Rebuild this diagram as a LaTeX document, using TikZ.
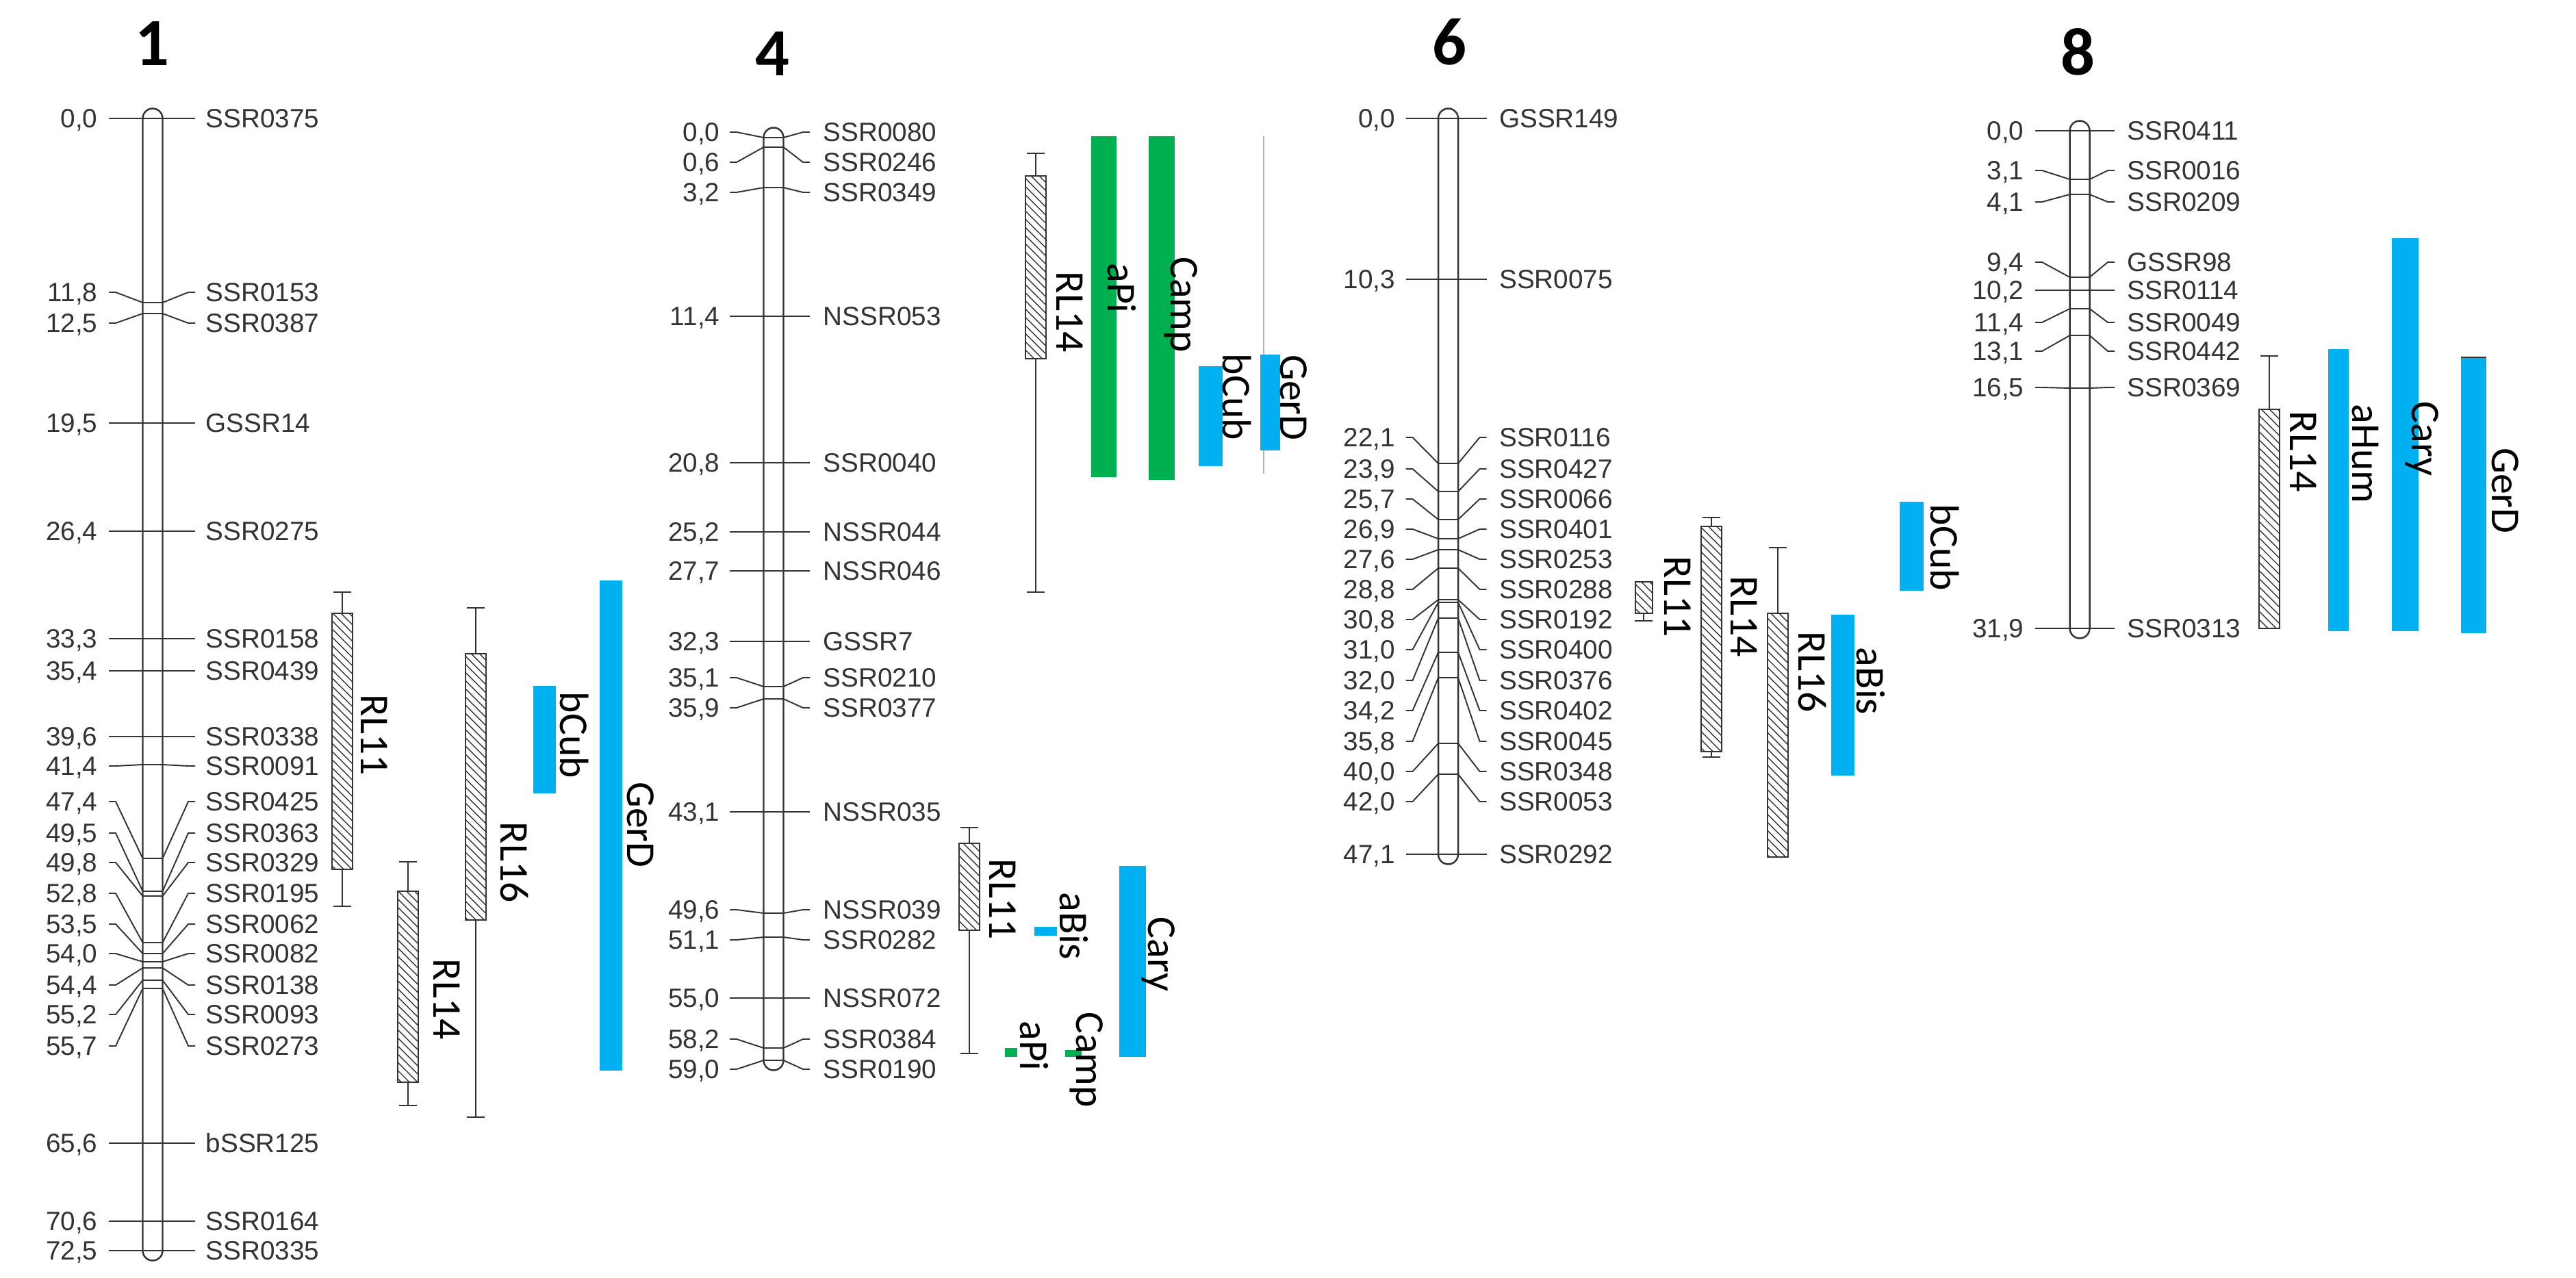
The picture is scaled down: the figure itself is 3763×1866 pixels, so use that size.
\documentclass[tikz,border=0pt]{standalone}
\usepackage{fontspec}
\setmainfont{Liberation Sans}
\newfontfamily\carl{Carlito}
\usetikzlibrary{patterns.meta}
\definecolor{qblue}{HTML}{00B0F0}
\definecolor{qgreen}{HTML}{00B050}
\definecolor{ink}{HTML}{333333}
\tikzset{
  chrom/.style={draw=ink, line width=0.7pt, fill=white, rounded corners=0.145cm},
  mkline/.style={draw=ink, line width=0.55pt},
  numlbl/.style={anchor=east, inner sep=0pt, font=\fontsize{11}{13}\selectfont, text=ink, text height=7.9pt, text depth=0pt},
  mklbl/.style={anchor=west, inner sep=0pt, font=\fontsize{11}{13}\selectfont, text=ink, text height=7.9pt, text depth=0pt},
  ctitle/.style={inner sep=0pt, font=\carl\bfseries\fontsize{28}{32}\selectfont, text height=17.7pt, text depth=0pt},
  qlbl/.style={rotate=-90, inner sep=0pt, font=\carl\fontsize{17}{20}\selectfont, text height=10.9pt, text depth=0pt},
  hatch/.style={draw=ink, line width=0.5pt, pattern={Lines[angle=-45,distance=2.4pt,line width=0.4pt]}, pattern color=ink},
  whisk/.style={draw=ink, line width=0.5pt}
}
% chromosome parameters: centre, number edge, line start, line end, name start, id
\newcommand\setchr[6]{\def\xc{#1}\def\nl{#2}\def\ls{#3}\def\le{#4}\def\nm{#5}\def\cid{#6}}
% marker: label y, bar y, position, name
\newcommand\mk[4]{%
  \node[numlbl] (\cid-#4-p) at (\xc+\nl,#1) {#3};
  \node[mklbl] (\cid-#4) at (\xc+\nm,#1) {#4};
  \draw[mkline] (\xc+\ls,#1) -- (\xc+\ls+10,#1) -- (\xc-14.5,#2) -- (\xc+14.5,#2) -- (\xc+\le-10,#1) -- (\xc+\le,#1);}
\newcommand\qbox[3]{\draw[hatch] (#1-15,#2) rectangle (#1+15,#3);}
\newcommand\qwhisk[3]{\draw[whisk] (#1,#2) -- (#1,#3) (#1-13,#3) -- (#1+13,#3);}
\newcommand\qbar[5]{\fill[#1] (#2,#4) rectangle (#3,#5);}
\newcommand\qlab[4]{\node[qlbl] (#4) at (#1,#2) {#3};}
\begin{document}
\begin{tikzpicture}[x=0.01cm,y=-0.01cm]
\useasboundingbox (0,0) rectangle (3763,1866);
\fill[white] (0,0) rectangle (3763,1866);

% ---------------- titles
\node[ctitle] (t1) at (222,64) {1};
\node[ctitle] (t4) at (1128,79) {4};
\node[ctitle] (t6) at (2117,63) {6};
\node[ctitle] (t8) at (3035,78) {8};

% ---------------- chromosome 1
\setchr{223}{-80}{-64}{62}{77}{a}
\draw[chrom] (\xc-14.5,173-14.5) rectangle (\xc+14.5,1827+14.5);
\mk{173}{173}{0,0}{SSR0375}
\mk{427}{442}{11,8}{SSR0153}
\mk{472}{458}{12,5}{SSR0387}
\mk{618}{618}{19,5}{GSSR14}
\mk{776}{776}{26,4}{SSR0275}
\mk{933}{933}{33,3}{SSR0158}
\mk{980}{980}{35,4}{SSR0439}
\mk{1076}{1076}{39,6}{SSR0338}
\mk{1119}{1117}{41,4}{SSR0091}
\mk{1171}{1254}{47,4}{SSR0425}
\mk{1217}{1302}{49,5}{SSR0363}
\mk{1260}{1309}{49,8}{SSR0329}
\mk{1305}{1377}{52,8}{SSR0195}
\mk{1350}{1393}{53,5}{SSR0062}
\mk{1393}{1405}{54,0}{SSR0082}
\mk{1439}{1414}{54,4}{SSR0138}
\mk{1482}{1432}{55,2}{SSR0093}
\mk{1528}{1444}{55,7}{SSR0273}
\mk{1670}{1670}{65,6}{bSSR125}
\mk{1784}{1784}{70,6}{SSR0164}
\mk{1827}{1827}{72,5}{SSR0335}
% QTL chr 1
\qwhisk{500}{896}{865}\qwhisk{500}{1270}{1324}\qbox{500}{896}{1270}
\qlab{547}{1074}{RL11}{a-RL11}
\qwhisk{695}{955}{888}\qwhisk{695}{1344}{1632}\qbox{695}{955}{1344}
\qlab{751}{1260}{RL16}{a-RL16}
\qwhisk{596}{1302}{1259}\qwhisk{596}{1581}{1615}\qbox{596}{1302}{1581}
\qlab{653}{1460}{RL14}{a-RL14}
\qbar{qblue}{779}{812}{1002}{1159}
\qlab{838}{1074}{bCub}{a-bCub}
\qbar{qblue}{876}{909}{848}{1564}
\qlab{936}{1205}{GerD}{a-GerD}

% ---------------- chromosome 4
\setchr{1130}{-78}{-64}{53}{72}{b}
\draw[chrom] (\xc-14.5,201-14.5) rectangle (\xc+14.5,1549+14.5);
\mk{193}{201}{0,0}{SSR0080}
\mk{237}{215}{0,6}{SSR0246}
\mk{281}{274}{3,2}{SSR0349}
\mk{462}{462}{11,4}{NSSR053}
\mk{676}{676}{20,8}{SSR0040}
\mk{777}{777}{25,2}{NSSR044}
\mk{834}{834}{27,7}{NSSR046}
\mk{937}{937}{32,3}{GSSR7}
\mk{990}{1003}{35,1}{SSR0210}
\mk{1034}{1021}{35,9}{SSR0377}
\mk{1186}{1186}{43,1}{NSSR035}
\mk{1329}{1334}{49,6}{NSSR039}
\mk{1373}{1369}{51,1}{SSR0282}
\mk{1458}{1458}{55,0}{NSSR072}
\mk{1518}{1531}{58,2}{SSR0384}
\mk{1562}{1549}{59,0}{SSR0190}
% QTL chr 4
\qwhisk{1513}{257}{224}\qwhisk{1513}{524}{865}\qbox{1513}{257}{524}
\qlab{1563}{456}{RL14}{b-RL14}
\qbar{qgreen}{1594}{1631}{199}{697}
\qlab{1638}{421}{aPi}{b-aPi}
\qbar{qgreen}{1678}{1716}{199}{701}
\qlab{1730}{445}{Camp}{b-Camp}
\qbar{qblue}{1751}{1786}{535}{681}
\qlab{1806}{580}{bCub}{b-bCub}
\draw[black!30, line width=0.4pt] (1846,199) -- (1846,692);
\qbar{qblue}{1841}{1870}{518}{658}
\qlab{1890}{581}{GerD}{b-GerD}
\qwhisk{1416}{1232}{1209}\qwhisk{1416}{1359}{1539}\qbox{1416}{1232}{1359}
\qlab{1465}{1314}{RL11}{b-RL11}
\qbar{qblue}{1511}{1544}{1354}{1367}
\qlab{1568}{1353}{aBis}{b-aBis}
\qbar{qblue}{1635}{1674}{1265}{1544}
\qlab{1697}{1394}{Cary}{b-Cary}
\qbar{qgreen}{1468}{1486}{1531}{1544}
\qlab{1510}{1528}{aPi}{b-aPi2}
\qbar{qgreen}{1556}{1580}{1534}{1544}
\qlab{1592}{1548}{Camp}{b-Camp2}

% ---------------- chromosome 6
\setchr{2115.5}{-77}{-62}{56}{74}{c}
\draw[chrom] (\xc-14.5,173-14.5) rectangle (\xc+14.5,1248+14.5);
\mk{173}{173}{0,0}{GSSR149}
\mk{408}{408}{10,3}{SSR0075}
\mk{639}{677}{22,1}{SSR0116}
\mk{685}{718}{23,9}{SSR0427}
\mk{729}{759}{25,7}{SSR0066}
\mk{773}{787}{26,9}{SSR0401}
\mk{817}{803}{27,6}{SSR0253}
\mk{861}{830}{28,8}{SSR0288}
\mk{905}{876}{30,8}{SSR0192}
\mk{949}{880}{31,0}{SSR0400}
\mk{994}{903}{32,0}{SSR0376}
\mk{1038}{953}{34,2}{SSR0402}
\mk{1083}{990}{35,8}{SSR0045}
\mk{1127}{1086}{40,0}{SSR0348}
\mk{1171}{1131}{42,0}{SSR0053}
\mk{1248}{1248}{47,1}{SSR0292}
% QTL chr 6
\qwhisk{2401}{896}{907}\draw[hatch] (2389,850) rectangle (2414,896);
\qlab{2451}{872}{RL11}{c-RL11}
\qwhisk{2500}{769}{756}\qwhisk{2500}{1098}{1106}\qbox{2500}{769}{1098}
\qlab{2548}{901}{RL14}{c-RL14}
\qwhisk{2597}{896}{800}\qbox{2597}{896}{1252}
\qlab{2647}{982}{RL16}{c-RL16}
\qbar{qblue}{2675}{2709}{898}{1133}
\qlab{2732}{995}{aBis}{c-aBis}
\qbar{qblue}{2775}{2810}{733}{863}
\qlab{2840}{800}{bCub}{c-bCub}

% ---------------- chromosome 8
\setchr{3038}{-81}{-65}{51}{69}{d}
\draw[chrom] (\xc-14.5,191-14.5) rectangle (\xc+14.5,918+14.5);
\mk{191}{191}{0,0}{SSR0411}
\mk{249}{262}{3,1}{SSR0016}
\mk{295}{284}{4,1}{SSR0209}
\mk{383}{405}{9,4}{GSSR98}
\mk{424}{424}{10,2}{SSR0114}
\mk{471}{451}{11,4}{SSR0049}
\mk{513}{490}{13,1}{SSR0442}
\mk{566}{567}{16,5}{SSR0369}
\mk{918}{918}{31,9}{SSR0313}
% QTL chr 8
\qwhisk{3315}{598}{520}\qbox{3315}{598}{918}
\qlab{3365}{660}{RL14}{d-RL14}
\qbar{qblue}{3401}{3431}{510}{922}
\qlab{3456}{663}{aHum}{d-aHum}
\qbar{qblue}{3494}{3533}{348}{922}
\qlab{3543}{641}{Cary}{d-Cary}
\qbar{qblue}{3595}{3632}{522}{925}
\draw[ink, line width=0.6pt] (3595,522) -- (3632,522);
\qlab{3660}{717}{GerD}{d-GerD}
\end{tikzpicture}
\end{document}
